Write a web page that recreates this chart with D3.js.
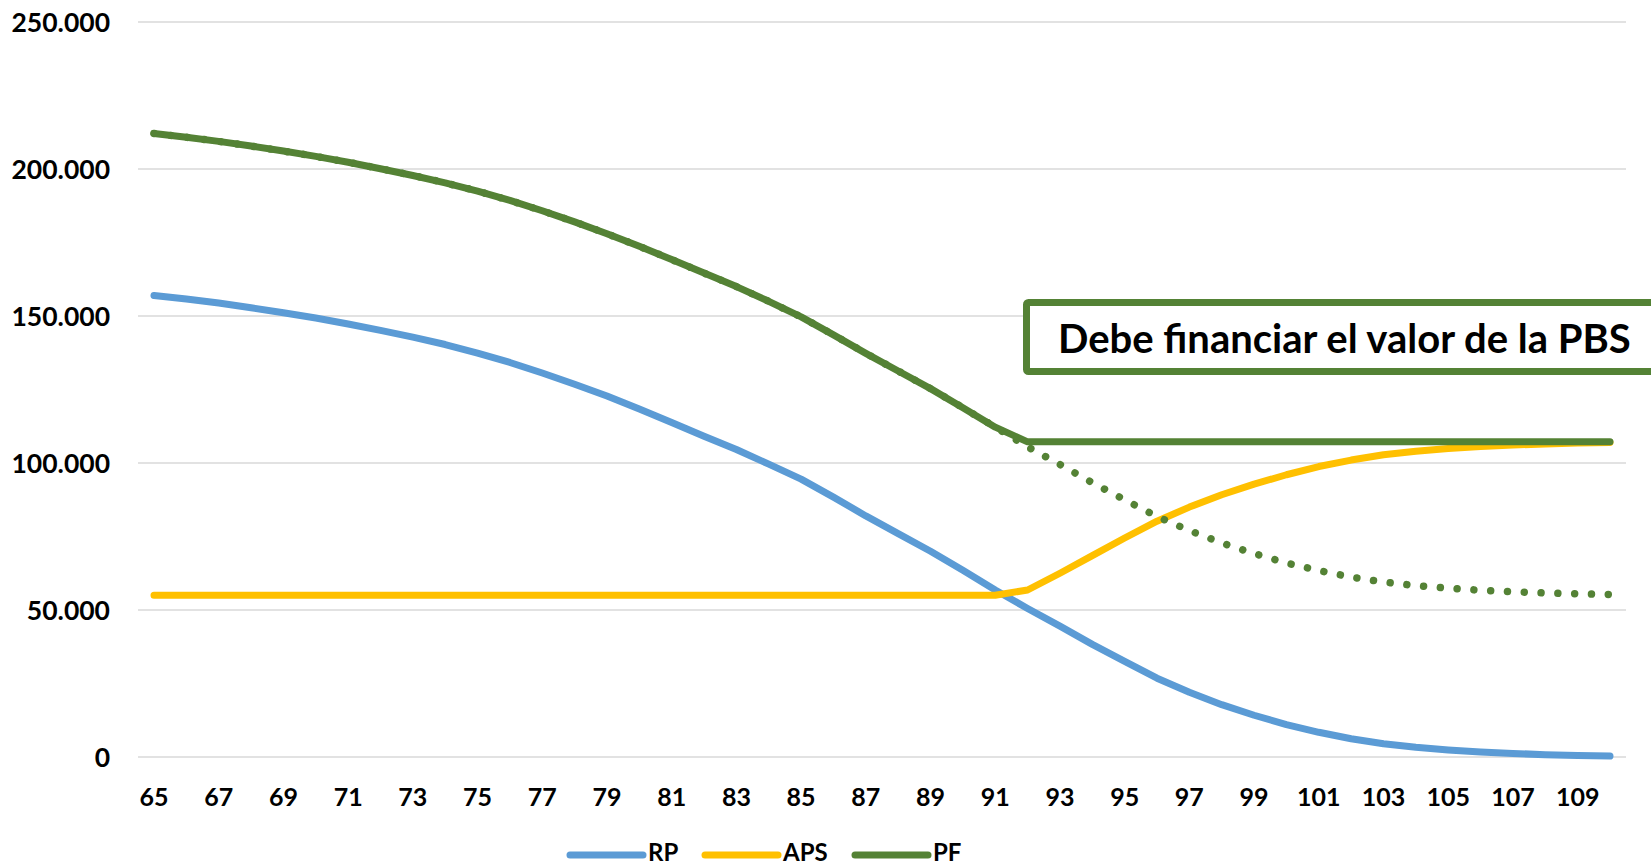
<!DOCTYPE html>
<html>
<head>
<meta charset="utf-8">
<script src="https://cdn.jsdelivr.net/npm/d3@7"></script>
<style>
  html, body { margin: 0; padding: 0; background: #fff; }
  svg { display: block; font-family: Lato, "Open Sans", sans-serif; font-weight: bold; }
</style>
</head>
<body>
<svg id="chart" width="1651" height="867"></svg>
<script>
// ---- data ----
const ages = d3.range(65, 111);
const xTickLabels = ["65","67","69","71","73","75","77","79","81","83","85","87","89","91","93","95","97","99","101","103","105","107","109"];
const yTicks = [0, 50000, 100000, 150000, 200000, 250000];
const yTickLabels = ["0", "50.000", "100.000", "150.000", "200.000", "250.000"];
const seriesNames = ["RP", "APS", "PF"];
const annotationText = "Debe financiar el valor de la PBS";

const RP = [157000,155800,154400,152800,151100,149300,147300,145100,142800,140300,
            137400,134200,130600,126800,122800,118400,113800,109100,104600,99600,
            94500,88400,82000,76000,70000,63500,56800,50500,44500,38300,
            32500,26800,22000,17800,14200,11000,8400,6200,4500,3300,
            2400,1700,1200,800,500,300];
const APS = [55000,55000,55000,55000,55000,55000,55000,55000,55000,55000,
             55000,55000,55000,55000,55000,55000,55000,55000,55000,55000,
             55000,55000,55000,55000,55000,55000,55000,56800,62500,68500,
             74500,80200,85000,89200,92800,96000,98800,101000,102800,104000,
             104900,105600,106100,106500,106800,107000];
const PF = [212100,210800,209400,207800,206100,204300,202300,200100,197800,195300,
            192500,189300,185800,182000,178000,173700,169200,164600,160000,155000,
            149700,143600,137300,131300,125300,118800,112200,107200,107200,107200,
            107200,107200,107200,107200,107200,107200,107200,107200,107200,107200,
            107200,107200,107200,107200,107200,107200];
const PFsinPBS = [212100,210800,209400,207800,206100,204300,202300,200100,197800,195300,
                  192500,189300,185800,182000,178000,173700,169200,164600,160000,155000,
                  149700,143600,137300,131300,125300,118800,112200,105500,99500,93300,
                  87500,81800,77000,72800,69200,66000,63400,61200,59500,58300,
                  57400,56700,56200,55800,55500,55300];

// ---- styles ----
const colors = { RP: "#5B9BD5", APS: "#FFC000", PF: "#548235" };
const gridColor = "#d9d9d9";

const svg = d3.select("#chart");
const x = d3.scalePoint().domain(ages).range([154, 1610]);
const y = d3.scaleLinear().domain([0, 250000]).range([757, 22]);

// gridlines
svg.append("g").selectAll("line").data(yTicks).join("line")
  .attr("x1", 138).attr("x2", 1626)
  .attr("y1", d => y(d)).attr("y2", d => y(d))
  .attr("stroke", gridColor).attr("stroke-width", 1.4);

// y labels
svg.append("g").selectAll("text").data(yTicks).join("text")
  .attr("x", 110).attr("y", d => y(d)).attr("dy", "0.36em")
  .attr("text-anchor", "end").attr("font-size", 26.5).attr("fill", "#000")
  .text((d, i) => yTickLabels[i]);

// x labels
svg.append("g").selectAll("text").data(xTickLabels).join("text")
  .attr("x", d => x(+d)).attr("y", 806)
  .attr("text-anchor", "middle").attr("font-size", 25).attr("fill", "#000")
  .text(d => d);

const line = d3.line().x((d, i) => x(ages[i])).y(d => y(d));

function drawLine(vals, color, width, dash) {
  const p = svg.append("path").datum(vals)
    .attr("d", line).attr("fill", "none")
    .attr("stroke", color).attr("stroke-width", width)
    .attr("stroke-linecap", "round").attr("stroke-linejoin", "round");
  if (dash) p.attr("stroke-dasharray", dash);
  return p;
}
drawLine(RP, colors.RP, 7);
drawLine(APS, colors.APS, 7);
drawLine(PFsinPBS, colors.PF, 7.5, "0.01 16.8");
drawLine(PF, colors.PF, 7);

// annotation box
const box = svg.append("g");
box.append("rect")
  .attr("x", 1026.5).attr("y", 302.5).attr("width", 700).attr("height", 69)
  .attr("rx", 2)
  .attr("fill", "#fff").attr("stroke", colors.PF).attr("stroke-width", 7);
box.append("text")
  .attr("x", 1058).attr("y", 353).attr("font-size", 40).attr("fill", "#000")
  .text(annotationText);

// legend
const legendX = [570, 705, 855];
const lg = svg.append("g");
seriesNames.forEach((name, i) => {
  lg.append("line")
    .attr("x1", legendX[i]).attr("x2", legendX[i] + 73)
    .attr("y1", 855).attr("y2", 855)
    .attr("stroke", colors[name]).attr("stroke-width", 7).attr("stroke-linecap", "round");
  lg.append("text")
    .attr("x", legendX[i] + 78).attr("y", 861)
    .attr("font-size", 24).attr("fill", "#000")
    .text(name);
});
</script>
</body>
</html>
